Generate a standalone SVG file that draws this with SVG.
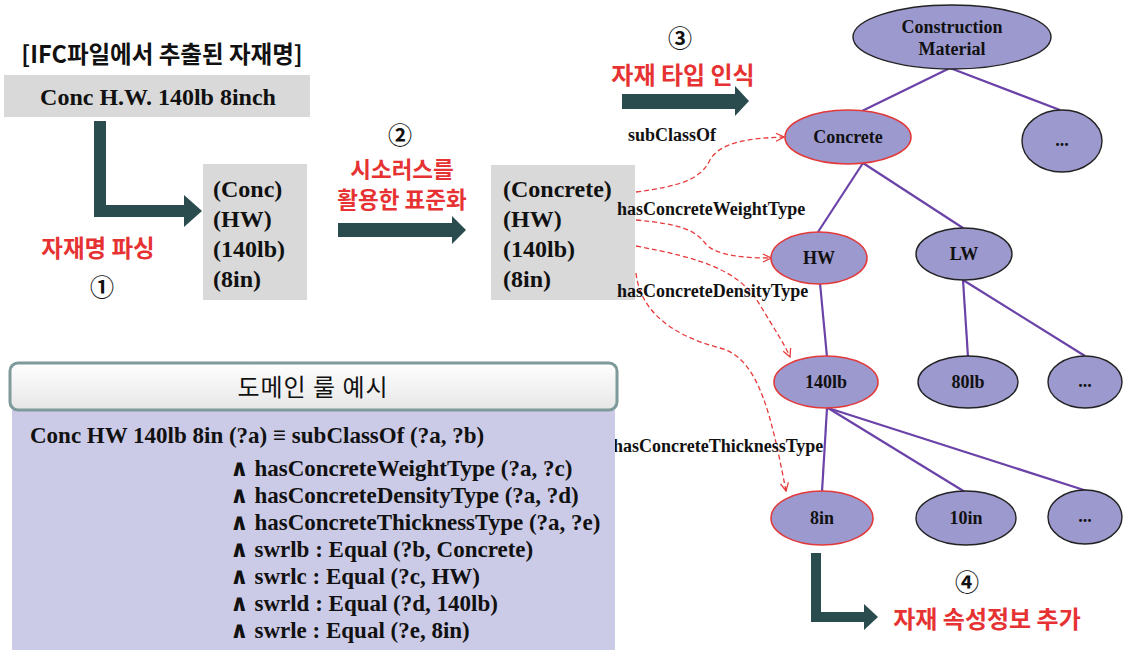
<svg xmlns="http://www.w3.org/2000/svg" width="1125" height="650" viewBox="0 0 1125 650">
<style>
.ko{font-family:"Noto Sans CJK KR","Noto Sans",sans-serif;font-weight:bold}
.red{fill:#e63232}
.num{font-family:"Noto Sans CJK KR","DejaVu Sans",sans-serif;font-size:24px;font-weight:bold;text-anchor:middle;fill:#111}
.tm{font-family:"Liberation Serif","Times New Roman",serif;font-weight:bold;fill:#111}
.box{fill:#d9d9d9}
.arr{fill:#2a4c4e}
.arrl{fill:none;stroke:#2a4c4e;stroke-linejoin:miter}
.eR{fill:#9c99cf;stroke:#e23a3a;stroke-width:1.6}
.eK{fill:#9c99cf;stroke:#222;stroke-width:1.4}
.lbl{font-family:"Liberation Serif","Times New Roman",serif;font-weight:bold;font-size:18px;text-anchor:middle;fill:#111}
.tree{stroke:#6b42a8;stroke-width:2.2;fill:none}
.dash{fill:none;stroke:#e83a3a;stroke-width:1.3;stroke-dasharray:5 3;marker-end:url(#open)}
.rel{font-family:"Liberation Serif","Times New Roman",serif;font-weight:bold;font-size:18px;fill:#111}
.rule{font-family:"Liberation Serif","Times New Roman","DejaVu Serif",serif;font-weight:bold;font-size:23px;fill:#111}
</style>
<defs>
<marker id="open" viewBox="0 0 10 10" refX="9" refY="5" markerWidth="10" markerHeight="10" markerUnits="userSpaceOnUse" orient="auto">
<path d="M1,1 L9,5 L1,9" fill="none" stroke="#e83a3a" stroke-width="1.3"/>
</marker>
<linearGradient id="hg" x1="0" y1="0" x2="0" y2="1">
<stop offset="0" stop-color="#ffffff"/><stop offset="1" stop-color="#e6e6e6"/>
</linearGradient>
</defs>
<rect width="1125" height="650" fill="#ffffff"/>

<g id="step1">
<text class="ko" x="162" y="63" font-size="23.5" text-anchor="middle" fill="#111">[IFC파일에서 추출된 자재명]</text>
<rect class="box" x="4" y="75" width="306" height="42"/>
<text class="tm" x="158" y="105" font-size="24" text-anchor="middle">Conc H.W. 140lb 8inch</text>
<polyline class="arrl" points="100,121 100,211 186,211" stroke-width="12"/>
<polygon class="arr" points="184,195 202,211 184,227"/>
<text class="ko red" x="98" y="257" font-size="23.5" text-anchor="middle">자재명 파싱</text>
<text class="num" x="102" y="296">①</text>
</g>

<g id="parsed">
<rect class="box" x="203" y="164" width="104" height="136"/>
<text class="tm" font-size="24"><tspan x="213" y="197">(Conc)</tspan><tspan x="213" y="227">(HW)</tspan><tspan x="213" y="257">(140lb)</tspan><tspan x="213" y="287">(8in)</tspan></text>
</g>

<g id="step2">
<text class="num" x="400" y="144">②</text>
<text class="ko red" x="402" y="178" font-size="22.5" text-anchor="middle">시소러스를</text>
<text class="ko red" x="402" y="208" font-size="22.5" text-anchor="middle">활용한 표준화</text>
<rect class="arr" x="338" y="223" width="115" height="14"/>
<polygon class="arr" points="452,216 466,230 452,244"/>
</g>

<g id="standard">
<rect class="box" x="491" y="165" width="144" height="135"/>
<text class="tm" font-size="24"><tspan x="503" y="197">(Concrete)</tspan><tspan x="503" y="227">(HW)</tspan><tspan x="503" y="257">(140lb)</tspan><tspan x="503" y="287">(8in)</tspan></text>
</g>

<g id="step3">
<text class="num" x="680" y="47">③</text>
<text class="ko red" x="683" y="84" font-size="24" text-anchor="middle">자재 타입 인식</text>
<rect class="arr" x="622" y="94" width="114" height="15"/>
<polygon class="arr" points="735,86 749,101 735,116"/>
</g>

<g id="connectors">
<line class="tree" x1="950" y1="68" x2="862" y2="111"/>
<line class="tree" x1="950" y1="68" x2="1060" y2="110"/>
<line class="tree" x1="863" y1="163" x2="818" y2="232"/>
<line class="tree" x1="863" y1="163" x2="963" y2="228"/>
<line class="tree" x1="820" y1="283" x2="827" y2="357"/>
<line class="tree" x1="963" y1="280" x2="968" y2="357"/>
<line class="tree" x1="963" y1="280" x2="1085" y2="356"/>
<line class="tree" x1="827" y1="408" x2="822" y2="492"/>
<line class="tree" x1="828" y1="408" x2="965" y2="492"/>
<line class="tree" x1="828" y1="408" x2="1087" y2="491"/>
<path class="dash" d="M636,192 C680,186 700,180 710,160 C720,142 750,138 784,137"/>
<path class="dash" d="M636,220 C680,224 695,230 705,243 C715,256 745,258 771,258"/>
<path class="dash" d="M636,246 C700,258 740,270 760,305 C775,330 785,345 790,357"/>
<path class="dash" d="M636,273 C640,310 670,335 720,348 C760,358 772,420 786,491"/>
<text class="rel" x="628" y="141">subClassOf</text>
<text class="rel" x="617" y="215">hasConcreteWeightType</text>
<text class="rel" x="617" y="297">hasConcreteDensityType</text>
<text class="rel" x="613" y="452">hasConcreteThicknessType</text>
</g>

<g id="n-construction">
<ellipse class="eK" cx="952" cy="37" rx="99" ry="32"/>
<text class="lbl" x="952" y="33" font-size="17">Construction</text>
<text class="lbl" x="952" y="55" font-size="17">Material</text>
</g>
<g id="n-concrete"><ellipse class="eR" cx="848" cy="137" rx="63" ry="27"/><text class="lbl" x="848" y="143">Concrete</text></g>
<g id="n-etc1"><ellipse class="eK" cx="1062" cy="141" rx="40" ry="31"/><text class="lbl" x="1062" y="146">...</text></g>
<g id="n-hw"><ellipse class="eR" cx="819" cy="258" rx="48" ry="26"/><text class="lbl" x="819" y="264">HW</text></g>
<g id="n-lw"><ellipse class="eK" cx="964" cy="254" rx="48" ry="26"/><text class="lbl" x="964" y="260">LW</text></g>
<g id="n-140lb"><ellipse class="eR" cx="826" cy="382" rx="52" ry="26"/><text class="lbl" x="826" y="388">140lb</text></g>
<g id="n-80lb"><ellipse class="eK" cx="968" cy="382" rx="50" ry="26"/><text class="lbl" x="968" y="388">80lb</text></g>
<g id="n-etc2"><ellipse class="eK" cx="1085" cy="382" rx="37" ry="26"/><text class="lbl" x="1085" y="387">...</text></g>
<g id="n-8in"><ellipse class="eR" cx="822" cy="518" rx="51" ry="27"/><text class="lbl" x="822" y="524">8in</text></g>
<g id="n-10in"><ellipse class="eK" cx="966" cy="518" rx="50" ry="27"/><text class="lbl" x="966" y="524">10in</text></g>
<g id="n-etc3"><ellipse class="eK" cx="1085" cy="517" rx="37" ry="27"/><text class="lbl" x="1085" y="522">...</text></g>

<g id="step4">
<polyline class="arrl" points="816,553 816,617 866,617" stroke-width="10"/>
<polygon class="arr" points="864,604 878,617 864,630"/>
<text class="num" x="967" y="591">④</text>
<text class="ko red" x="987" y="628" font-size="24" text-anchor="middle">자재 속성정보 추가</text>
</g>

<g id="rule-panel">
<rect x="12" y="410" width="603" height="240" fill="#cccbe7"/>
<rect x="10" y="363" width="607" height="47" rx="8" fill="url(#hg)" stroke="#7f9a9a" stroke-width="3"/>
<text x="313" y="396" font-family="Noto Sans CJK KR, Noto Sans, sans-serif" font-size="24" text-anchor="middle" letter-spacing="1" fill="#111">도메인 룰 예시</text>
<text class="rule" x="30" y="443">Conc HW 140lb 8in (?a) ≡ subClassOf (?a, ?b)</text>
<text class="rule"><tspan x="230" y="476">∧ hasConcreteWeightType (?a, ?c)</tspan><tspan x="230" y="503">∧ hasConcreteDensityType (?a, ?d)</tspan><tspan x="230" y="530">∧ hasConcreteThicknessType (?a, ?e)</tspan><tspan x="230" y="557">∧ swrlb : Equal (?b, Concrete)</tspan><tspan x="230" y="584">∧ swrlc : Equal (?c, HW)</tspan><tspan x="230" y="611">∧ swrld : Equal (?d, 140lb)</tspan><tspan x="230" y="638">∧ swrle : Equal (?e, 8in)</tspan></text>
</g>
</svg>
